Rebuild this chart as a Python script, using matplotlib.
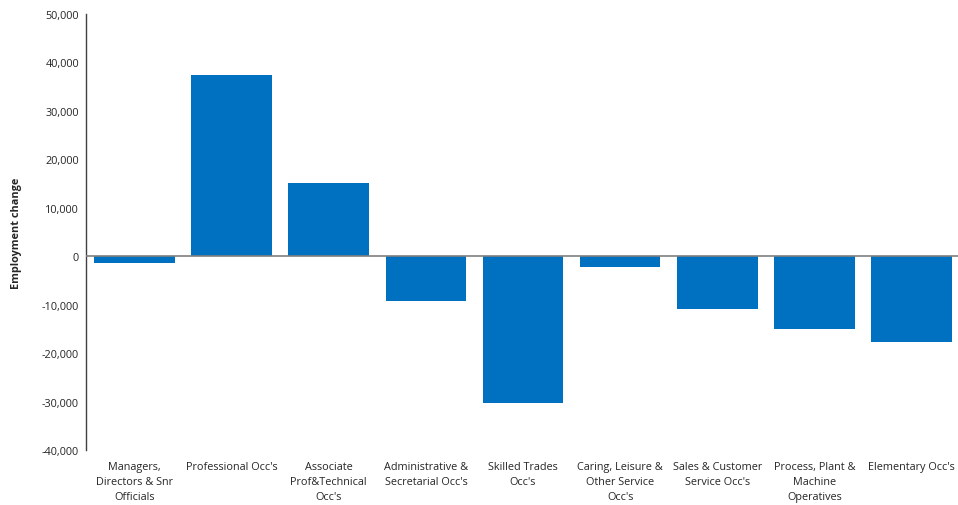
import matplotlib.pyplot as plt
import matplotlib.ticker as mticker

# occupation groups and employment change
categories = [
    "Managers,\nDirectors & Snr\nOfficials",
    "Professional Occ's",
    "Associate\nProf&Technical\nOcc's",
    "Administrative &\nSecretarial Occ's",
    "Skilled Trades\nOcc's",
    "Caring, Leisure &\nOther Service\nOcc's",
    "Sales & Customer\nService Occ's",
    "Process, Plant &\nMachine\nOperatives",
    "Elementary Occ's",
]
change = [-1300, 37400, 15200, -9300, -30300, -2300, -10800, -15000, -17700]

plt.rcParams['font.family'] = ['Open Sans', 'DejaVu Sans']

fig = plt.figure(figsize=(9.58, 5.06), dpi=100)
ax = fig.add_axes([86 / 958, 55 / 506, 874 / 958, 436 / 506])

x = range(len(categories))
ax.bar(x, change, width=0.83, color='#0070C0', zorder=2)
ax.axhline(0, color='#808080', linewidth=1.2, zorder=3)

ax.set_ylim(-40000, 50000)
ax.set_xlim(-0.5, len(categories) - 0.5)
ax.yaxis.set_major_locator(mticker.MultipleLocator(10000))
ax.yaxis.set_major_formatter(mticker.FuncFormatter(lambda v, p: f"{v:,.0f}"))

ax.set_xticks(list(x))
ax.set_xticklabels(categories, fontsize=7.8, color='#262626', linespacing=1.5)
ax.tick_params(axis='x', length=0, pad=8)
ax.tick_params(axis='y', length=0, labelsize=7.8, labelcolor='#262626', pad=5)

for s in ['top', 'right', 'bottom']:
    ax.spines[s].set_visible(False)
ax.spines['left'].set_color('#404040')
ax.spines['left'].set_linewidth(1)

ax.set_ylabel('Employment change', fontsize=7.8, fontweight='bold', color='#262626', labelpad=14)

fig.savefig('out.png', dpi=100)
